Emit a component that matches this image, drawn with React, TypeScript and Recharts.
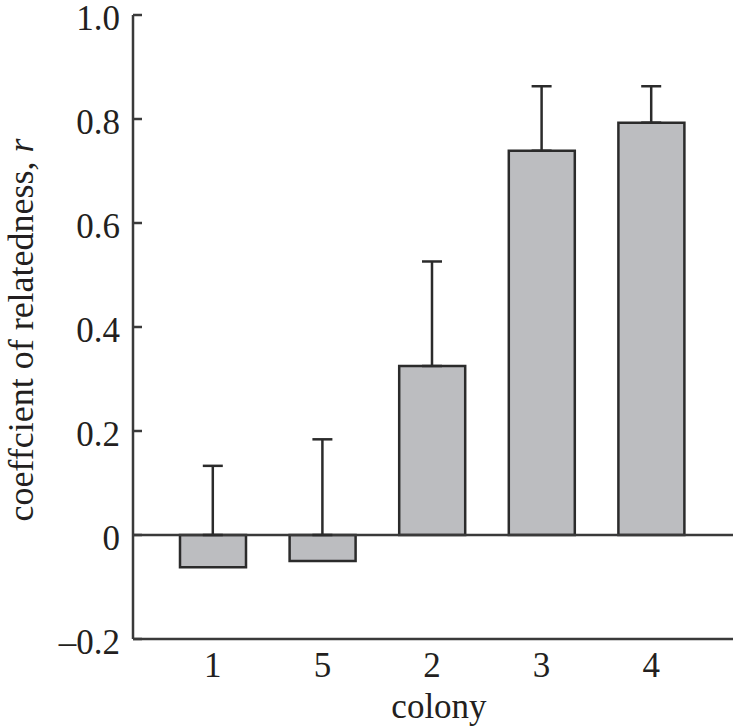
import {
  ComposedChart, Bar, Scatter, ErrorBar, XAxis, YAxis, ReferenceLine, Label,
} from "recharts";

const colonies = ["1", "5", "2", "3", "4"];
const relatedness = [-0.062, -0.05, 0.325, 0.739, 0.793];
const upperLimit = [0.133, 0.184, 0.526, 0.863, 0.863];
const yTicks = [-0.2, 0, 0.2, 0.4, 0.6, 0.8, 1.0];

const FONT = "'Liberation Serif', 'Times New Roman', serif";
const INK = "#231f20";
const LINE = "#3a3a3a";

const data = colonies.map((c, i) => {
  const base = Math.max(relatedness[i], 0);
  return {
    colony: c,
    r: relatedness[i],
    base,
    err: [0, upperLimit[i] - base],
  };
});

const fmt = (v: number) => {
  if (v === 0) return "0";
  if (v < 0) return "\u2013" + Math.abs(v).toFixed(1);
  return v.toFixed(1);
};

export default function App() {
  return (
    <div style={{ position: "absolute", left: 0, top: 0, background: "#fff" }}>
      <ComposedChart
        width={736}
        height={727}
        data={data}
        margin={{ top: 15, right: 3, left: 0, bottom: 0 }}
      >
        <XAxis
          dataKey="colony"
          height={88}
          padding={{ left: 25, right: 27 }}
          axisLine={{ stroke: LINE, strokeWidth: 2.5 }}
          tickLine={false}
          tickSize={0}
          tickMargin={13}
          tick={{ fill: INK, fontSize: 35, fontFamily: FONT }}
        >
          <Label
            value="colony"
            position="insideBottom"
            offset={9}
            dx={6}
            style={{ fill: INK, fontSize: 35, fontFamily: FONT }}
          />
        </XAxis>
        <YAxis
          width={133}
          domain={[-0.2, 1]}
          ticks={yTicks}
          interval={0}
          tickFormatter={fmt}
          axisLine={{ stroke: LINE, strokeWidth: 2.5 }}
          tickLine={{ stroke: LINE, strokeWidth: 2.5 }}
          tickSize={-9}
          tickMargin={22}
          tick={{ fill: INK, fontSize: 35, fontFamily: FONT, dy: 3 }}
        >
          <Label
            content={({ viewBox }: any) => {
              const cy = viewBox.y + viewBox.height / 2 + 3;
              return (
                <text
                  transform={`translate(33, ${cy}) rotate(-90)`}
                  textAnchor="middle"
                  fill={INK}
                  fontSize={36}
                  fontFamily={FONT}
                >
                  coeffcient of relatedness, <tspan fontStyle="italic">r</tspan>
                </text>
              );
            }}
          />
        </YAxis>
        <ReferenceLine y={0} stroke={LINE} strokeWidth={2.5} />
        <Bar
          dataKey="r"
          barSize={66}
          fill="#bcbdc0"
          stroke="#2b2b2b"
          strokeWidth={2.5}
          isAnimationActive={false}
        />
        <Scatter dataKey="base" shape={() => <g />} isAnimationActive={false}>
          <ErrorBar
            dataKey="err"
            direction="y"
            width={10}
            stroke="#2b2b2b"
            strokeWidth={2.5}
            isAnimationActive={false}
          />
        </Scatter>
      </ComposedChart>
    </div>
  );
}
